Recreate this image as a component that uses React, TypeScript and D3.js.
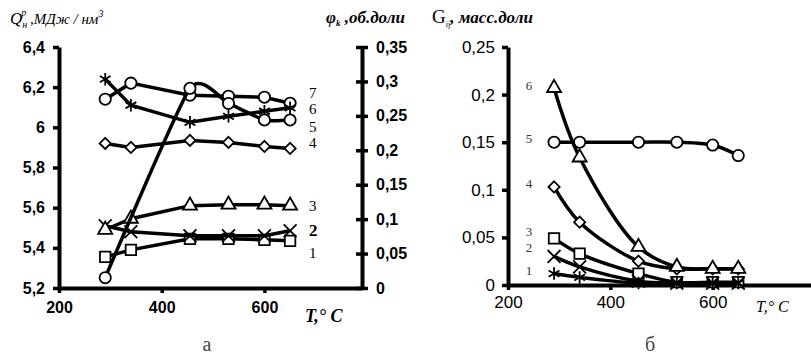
import React, { useRef, useEffect } from 'react';
import * as d3 from 'd3';

// temperature points, °C
const temps = [290, 340, 455, 530, 600, 650];
const temps5 = [290, 455, 530, 600, 650];

// chart "а": heating value Q (MJ/nm3) and φk
const q1 = [5.355, 5.39, 5.445, 5.445, 5.44, 5.435];
const q2 = [5.51, 5.48, 5.46, 5.46, 5.46, 5.485];
const q3 = [5.49, 5.545, 5.61, 5.615, 5.615, 5.61];
const q4 = [5.92, 5.9, 5.935, 5.925, 5.905, 5.895];
const phi5 = [0.015, 0.29, 0.268, 0.244, 0.244];
const q6 = [6.24, 6.11, 6.025, 6.055, 6.08, 6.097];
const q7 = [6.14, 6.22, 6.16, 6.155, 6.15, 6.12];

// chart "б": G mass fractions
const g1 = [0.012, 0.008, 0.002, 0.002, 0.002, 0.002];
const g2 = [0.03, 0.019, 0.004, 0.002, 0.002, 0.002];
const g3 = [0.049, 0.033, 0.012, 0.003, 0.003, 0.003];
const g4 = [0.103, 0.066, 0.025, 0.017, 0.017, 0.017];
const g5 = [0.15, 0.15, 0.15, 0.15, 0.147, 0.136];
const g6 = [0.207, 0.134, 0.04, 0.019, 0.017, 0.017];

const qTicks = [5.2, 5.4, 5.6, 5.8, 6, 6.2, 6.4];
const phiTicks = [0, 0.05, 0.1, 0.15, 0.2, 0.25, 0.3, 0.35];
const gTicks = [0, 0.05, 0.1, 0.15, 0.2, 0.25];
const tTicks = [200, 400, 600];

const comma = (v: number) => String(v).replace('.', ',');

const App = () => {
  const ref = useRef<SVGSVGElement>(null);

  useEffect(() => {
    const svg = d3.select(ref.current);
    svg.selectAll('*').remove();

    const sans = 'Liberation Sans, Arial, sans-serif';
    const serif = 'Liberation Serif, Times New Roman, serif';

    // ---------- chart а ----------
    const xA = d3.scaleLinear().domain([200, 790]).range([59, 362]);
    const yQ = d3.scaleLinear().domain([5.2, 6.4]).range([288, 47]);
    const yPhi = d3.scaleLinear().domain([0, 0.35]).range([288, 47]);

    const a = svg.append('g');

    const axL = a.append('g')
      .attr('transform', `translate(${xA(200)},0)`)
      .call(d3.axisLeft(yQ).tickValues(qTicks).tickSize(6).tickSizeOuter(0).tickFormat((d) => comma(+d)));
    const axR = a.append('g')
      .attr('transform', `translate(${xA(790)},0)`)
      .call(d3.axisRight(yPhi).tickValues(phiTicks).tickSize(6).tickSizeOuter(0).tickFormat((d) => comma(+d)));
    axR.selectAll('.tick line').attr('x1', -6);
    const axB = a.append('g')
      .attr('transform', `translate(0,${yQ(5.2)})`)
      .call(d3.axisBottom(xA).tickValues(tTicks).tickSize(5).tickSizeOuter(0));

    [axL, axR, axB].forEach((g) => {
      g.select('.domain').attr('stroke-width', 4);
      g.selectAll('.tick line').attr('stroke-width', 3.5);
      g.selectAll('text').attr('font-family', sans).attr('font-weight', 'bold').attr('font-size', 16).attr('fill', '#000');
    });
    axL.selectAll('text').attr('x', -14);
    axR.selectAll('text').attr('x', 14);
    axB.selectAll('text').attr('y', 14);

    // ---------- chart б ----------
    const xB = d3.scaleLinear().domain([200, 800]).range([508, 815]);
    const yG = d3.scaleLinear().domain([0, 0.25]).range([285, 47]);

    const b = svg.append('g');
    const bxL = b.append('g')
      .attr('transform', `translate(${xB(200)},0)`)
      .call(d3.axisLeft(yG).tickValues(gTicks).tickSize(6).tickSizeOuter(0).tickFormat((d) => comma(+d)));
    const bxB = b.append('g')
      .attr('transform', `translate(0,${yG(0)})`)
      .call(d3.axisBottom(xB).tickValues(tTicks).tickSize(5).tickSizeOuter(0));
    [bxL, bxB].forEach((g) => {
      g.select('.domain').attr('stroke-width', 4);
      g.selectAll('.tick line').attr('stroke-width', 3.5);
      g.selectAll('text').attr('font-family', sans).attr('font-size', 17).attr('fill', '#000');
    });
    bxL.selectAll('text').attr('x', -13);
    bxB.selectAll('text').attr('y', 11);

    // ---------- series ----------
    const sym = {
      circle: d3.symbol(d3.symbolCircle, 100),
      square: d3.symbol(d3.symbolSquare, 110),
      triangle: d3.symbol(d3.symbolTriangle, 85),
      diamond: d3.symbol(d3.symbolDiamond2, 80),
      times: d3.symbol(d3.symbolTimes, 110),
      star: d3.symbol(d3.symbolAsterisk, 110),
    };
    const hollow = ['circle', 'square', 'triangle', 'diamond'];

    const drawSeries = (
      g: any,
      xs: d3.ScaleLinear<number, number>,
      ys: d3.ScaleLinear<number, number>,
      tx: number[],
      vals: number[],
      marker: keyof typeof sym,
      curve: d3.CurveFactory,
    ) => {
      const line = d3.line<number>()
        .x((_, i) => xs(tx[i]))
        .y((d) => ys(d))
        .curve(curve);
      g.append('path')
        .attr('d', line(vals))
        .attr('fill', 'none')
        .attr('stroke', '#000')
        .attr('stroke-width', 3.5);
      g.selectAll(null)
        .data(vals)
        .enter()
        .append('path')
        .attr('transform', (d: number, i: number) => `translate(${xs(tx[i])},${ys(d)})`)
        .attr('d', sym[marker]())
        .attr('fill', hollow.includes(marker) ? '#fff' : 'none')
        .attr('stroke', '#000')
        .attr('stroke-width', 1.8);
    };

    drawSeries(a, xA, yQ, temps, q4, 'diamond', d3.curveLinear);
    drawSeries(a, xA, yQ, temps, q1, 'square', d3.curveLinear);
    drawSeries(a, xA, yQ, temps, q2, 'times', d3.curveLinear);
    drawSeries(a, xA, yQ, temps, q3, 'triangle', d3.curveLinear);
    drawSeries(a, xA, yQ, temps, q7, 'circle', d3.curveLinear);
    drawSeries(a, xA, yQ, temps, q6, 'star', d3.curveLinear);
    drawSeries(a, xA, yPhi, temps5, phi5, 'circle', d3.curveCardinal.tension(0.45));

    drawSeries(b, xB, yG, temps, g5, 'circle', d3.curveCatmullRom);
    drawSeries(b, xB, yG, temps, g4, 'diamond', d3.curveCatmullRom);
    drawSeries(b, xB, yG, temps, g6, 'triangle', d3.curveCatmullRom);
    drawSeries(b, xB, yG, temps, g3, 'square', d3.curveCatmullRom);
    drawSeries(b, xB, yG, temps, g2, 'times', d3.curveCatmullRom);
    drawSeries(b, xB, yG, temps, g1, 'star', d3.curveCatmullRom);

    // series numbers
    const labA: [string, number, boolean][] = [
      ['7', 93, false], ['6', 109, false], ['5', 127, false], ['4', 143, false],
      ['3', 206, false], ['2', 231, true], ['1', 253, false],
    ];
    labA.forEach(([t, y, bold]) => {
      a.append('text').text(t).attr('x', 309).attr('y', y + 5)
        .attr('font-family', serif).attr('font-size', bold ? 17 : 15)
        .attr('font-weight', bold ? 'bold' : 'normal');
    });
    const labB: [string, number][] = [
      ['6', 85], ['5', 138], ['4', 183], ['3', 231], ['2', 247], ['1', 270],
    ];
    labB.forEach(([t, y]) => {
      b.append('text').text(t).attr('x', 529).attr('y', y + 5)
        .attr('text-anchor', 'middle')
        .attr('font-family', serif).attr('font-size', 13).attr('fill', '#333');
    });

    // axis titles
    const tq = svg.append('text').attr('x', 10).attr('y', 24)
      .attr('font-family', serif).attr('font-style', 'italic').attr('font-size', 15);
    tq.append('tspan').text('Q').attr('font-size', 17);
    tq.append('tspan').text('н').attr('font-size', 10).attr('dy', 4);
    tq.append('tspan').text('р').attr('font-size', 10).attr('dx', -6).attr('dy', -12);
    tq.append('tspan').text(' ,МДж / нм').attr('dy', 8);
    tq.append('tspan').text('3').attr('font-size', 10).attr('dy', -7);

    const tp = svg.append('text').attr('x', 326).attr('y', 23)
      .attr('font-family', serif).attr('font-style', 'italic').attr('font-weight', 'bold').attr('font-size', 17);
    tp.append('tspan').text('φ');
    tp.append('tspan').text('k').attr('font-size', 9).attr('dy', 3);
    tp.append('tspan').text(' ,об.доли').attr('dy', -3);

    const tg = svg.append('text').attr('x', 432).attr('y', 23)
      .attr('font-family', serif).attr('font-size', 19);
    tg.append('tspan').text('G');
    tg.append('tspan').text('ij').attr('font-size', 8).attr('dy', 4);
    tg.append('tspan').text(', масс.доли').attr('dy', -4)
      .attr('font-style', 'italic').attr('font-weight', 'bold').attr('font-size', 17);

    // x titles
    const txA = svg.append('text').attr('x', 305).attr('y', 322)
      .attr('font-family', serif).attr('font-style', 'italic').attr('font-weight', 'bold').attr('font-size', 18);
    txA.append('tspan').text('T,° C');
    const txB = svg.append('text').attr('x', 756).attr('y', 312)
      .attr('font-family', serif).attr('font-style', 'italic').attr('font-size', 16);
    txB.append('tspan').text('T,° C');

    // captions
    svg.append('text').text('а').attr('x', 207).attr('y', 351).attr('text-anchor', 'middle')
      .attr('font-family', serif).attr('font-size', 20).attr('fill', '#444');
    svg.append('text').text('б').attr('x', 650).attr('y', 351).attr('text-anchor', 'middle')
      .attr('font-family', serif).attr('font-size', 20).attr('fill', '#444');
  }, []);

  return (
    <svg ref={ref} width={811} height={355}
      style={{ position: 'absolute', left: 0, top: 0, background: '#fff' }} />
  );
};

export default App;
